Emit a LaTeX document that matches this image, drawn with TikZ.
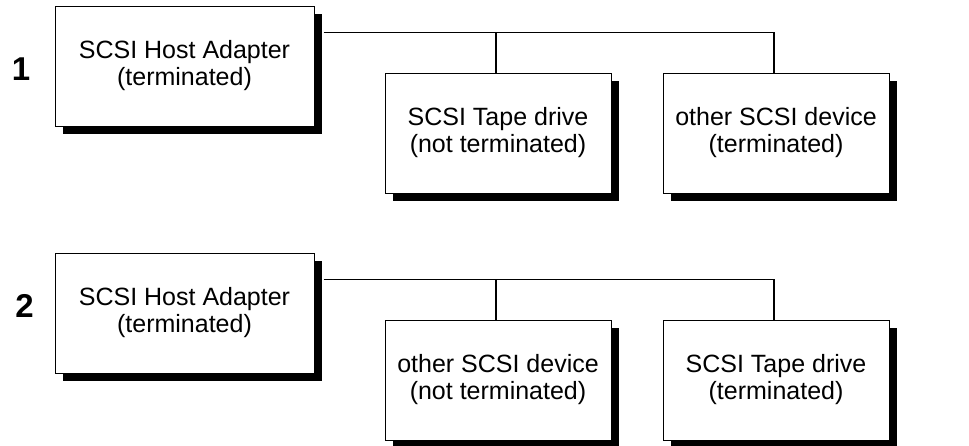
\documentclass[tikz,border=0pt]{standalone}
\usepackage{fontspec}
\setmainfont{Liberation Sans}
\usetikzlibrary{shadows,calc}
\begin{document}
\begin{tikzpicture}[x=1pt,y=-1pt,
  dev/.style={draw=black,line width=1pt,fill=white,rectangle,minimum height=120pt,
    align=center,inner sep=0pt,font=\fontsize{25}{27}\selectfont,
    drop shadow={shadow xshift=8pt,shadow yshift=-8pt,fill=black,opacity=1}},
  host/.style={dev,minimum width=259pt},
  periph/.style={dev,minimum width=226pt},
  num/.style={font=\fontsize{33}{36}\selectfont\bfseries,inner sep=0pt},
  bus/.style={line width=1.3pt,black}]
\useasboundingbox (0,0) rectangle (969,445);
% diagram 1
\node[num] (n1) at (21,69) {1};
\node[host] (h1) at (184.5,66) {SCSI Host Adapter\\(terminated)};
\node[periph] (t1) at (498,133) {SCSI Tape drive\\(not terminated)};
\node[periph] (o1) at (776,133) {other SCSI device\\(terminated)};
\coordinate (b1) at ($(h1.north east)+(9,27)$);
\coordinate (j1) at ([xshift=-2pt]t1.north |- b1);
\draw[bus] (b1) -| ([xshift=-2pt]o1.north);
\draw[bus] (j1) -- ([xshift=-2pt]t1.north);
% diagram 2
\node[num] (n2) at (24.5,305.5) {2};
\node[host] (h2) at (184.5,313) {SCSI Host Adapter\\(terminated)};
\node[periph] (o2) at (498,380) {other SCSI device\\(not terminated)};
\node[periph] (t2) at (776,380) {SCSI Tape drive\\(terminated)};
\coordinate (b2) at ($(h2.north east)+(9,27)$);
\coordinate (j2) at ([xshift=-2pt]o2.north |- b2);
\draw[bus] (b2) -| ([xshift=-2pt]t2.north);
\draw[bus] (j2) -- ([xshift=-2pt]o2.north);
\end{tikzpicture}
\end{document}
